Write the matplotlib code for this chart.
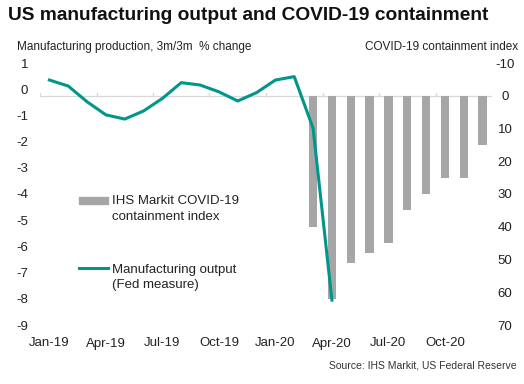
import numpy as np
import matplotlib.pyplot as plt
from matplotlib.patches import Rectangle
from matplotlib.lines import Line2D

plt.rcParams['font.family'] = ['Liberation Sans', 'DejaVu Sans']
plt.rcParams['axes.unicode_minus'] = False

# months Jan-19 .. Dec-20
months = ['Jan-19', 'Feb-19', 'Mar-19', 'Apr-19', 'May-19', 'Jun-19',
          'Jul-19', 'Aug-19', 'Sep-19', 'Oct-19', 'Nov-19', 'Dec-19',
          'Jan-20', 'Feb-20', 'Mar-20', 'Apr-20', 'May-20', 'Jun-20',
          'Jul-20', 'Aug-20', 'Sep-20', 'Oct-20', 'Nov-20', 'Dec-20']

# manufacturing output, 3m/3m % change (Jan-19 .. Apr-20)
mfg_output = [0.35, 0.12, -0.48, -0.98, -1.14, -0.83, -0.35, 0.25,
              0.16, -0.10, -0.45, -0.13, 0.35, 0.48, -1.49, -8.05]

# COVID-19 containment index (Mar-20 .. Dec-20)
containment = [40, 62, 51, 48, 45, 35, 30, 25, 25, 15]

tick_labels = ['Jan-19', 'Apr-19', 'Jul-19', 'Oct-19',
               'Jan-20', 'Apr-20', 'Jul-20', 'Oct-20']

teal = '#00968a'
grey = '#a6a6a6'
txt = '#222222'

fig = plt.figure(figsize=(5.24, 3.84), dpi=100)
ax = fig.add_axes([40 / 524, 1 - 325 / 384, 452 / 524, 262 / 384])
ax2 = ax.twinx()

x = np.arange(len(months))
x_line = x[:len(mfg_output)]
x_bar = x[months.index('Mar-20'):months.index('Mar-20') + len(containment)]

ax2.bar(x_bar, containment, width=0.45, color=grey, zorder=2)
ax2.axhline(0, color='#d9d9d9', lw=0.9, zorder=1)
ax2.set_ylim(70, -10)
ax2.set_yticks(np.arange(-10, 71, 10))

# little tick marks on the zero line, every 3 months
for b in np.arange(-0.5, len(months), 3):
    ax2.plot([b, b], [0, -0.9], color='#d9d9d9', lw=0.9, zorder=1)

ax.plot(x_line, mfg_output, color=teal, lw=2.2, zorder=5)
ax.set_zorder(ax2.get_zorder() + 1)
ax.patch.set_visible(False)
ax.set_ylim(-9, 1)
ax.set_yticks(np.arange(-9, 2, 1))
ax.set_xlim(-0.5, len(months) - 0.5)
ax.set_xticks([months.index(m) for m in tick_labels])
ax.set_xticklabels(tick_labels)

for a in (ax, ax2):
    for s in a.spines.values():
        s.set_visible(False)
    a.tick_params(length=0, labelsize=9.5, colors=txt)
ax.tick_params(axis='x', pad=9)
ax.tick_params(axis='y', pad=8.5)
ax2.tick_params(axis='y', pad=9.4)
for lab in ax2.get_yticklabels():
    lab.set_horizontalalignment('center')

fig.text(8 / 524, 1 - 15 / 384, 'US manufacturing output and COVID-19 containment',
         fontsize=13.8, fontweight='bold', va='center', color='#111111')
fig.text(17 / 524, 1 - 47 / 384, 'Manufacturing production, 3m/3m  % change',
         fontsize=8.5, va='center', color=txt)
fig.text(518 / 524, 1 - 47 / 384, 'COVID-19 containment index',
         fontsize=8.5, va='center', ha='right', color=txt)
fig.text(517 / 524, 1 - 366 / 384, 'Source: IHS Markit, US Federal Reserve',
         fontsize=7.5, va='center', ha='right', color='#333333')

# legend, drawn by hand so the key sits next to the first text line
fig.patches.append(Rectangle((79 / 524, 1 - 203.5 / 384), 29 / 524, 7 / 384,
                             transform=fig.transFigure, color=grey))
fig.lines.append(Line2D([79 / 524, 108 / 524], [1 - 268 / 384] * 2,
                        transform=fig.transFigure, color=teal, lw=2.2))
fig.text(112 / 524, 1 - 195 / 384, 'IHS Markit COVID-19\ncontainment index',
         fontsize=9.5, va='top', color=txt, linespacing=1.4)
fig.text(112 / 524, 1 - 263.5 / 384, 'Manufacturing output\n(Fed measure)',
         fontsize=9.5, va='top', color=txt, linespacing=1.4)

fig.savefig('out.png', dpi=100)
